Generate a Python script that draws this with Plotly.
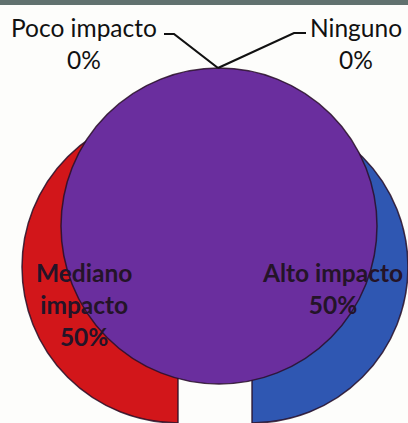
import plotly.graph_objects as go

categories = ["Ninguno", "Poco impacto", "Mediano impacto", "Alto impacto"]
values = [0, 0, 50, 50]
pct_labels = ["0%", "0%", "50%", "50%"]

W, H = 408, 423
TRANSP = "rgba(0,0,0,0)"
RED = "#d2161a"
BLUE = "#2f57b2"
PURPLE = "#6a2e9e"
EDGE = "rgba(40,15,40,0.85)"


def px(x):
    return x / W


def py(y):
    return 1 - y / H


fig = go.Figure()

# red half (Mediano impacto)
fig.add_trace(go.Pie(
    labels=categories, values=values, sort=False, direction="counterclockwise",
    marker=dict(colors=[TRANSP, TRANSP, RED, TRANSP],
                line=dict(color=[TRANSP, TRANSP, EDGE, TRANSP], width=1.5)),
    textinfo="none", hoverinfo="skip", showlegend=False,
    domain=dict(x=[px(22), px(334)], y=[0, py(111)]),
))
# blue half (Alto impacto)
fig.add_trace(go.Pie(
    labels=categories, values=values, sort=False, direction="counterclockwise",
    marker=dict(colors=[TRANSP, TRANSP, TRANSP, BLUE],
                line=dict(color=[TRANSP, TRANSP, TRANSP, EDGE], width=1.5)),
    textinfo="none", hoverinfo="skip", showlegend=False,
    domain=dict(x=[px(96), 1], y=[0, py(111)]),
))
# purple disc (total)
fig.add_trace(go.Pie(
    labels=["Total"], values=[sum(values)], sort=False,
    marker=dict(colors=[PURPLE], line=dict(color=EDGE, width=1.5)),
    textinfo="none", hoverinfo="skip", showlegend=False,
    domain=dict(x=[px(61), px(377)], y=[py(384), py(68)]),
))

lab = dict(zip(categories, zip(categories, pct_labels)))

reg_font = dict(family="Lato", size=24.5, color="#111111")
bold_font = dict(family="Lato", size=24.5, color="#241428")

annotations = [
    dict(text=f"{lab['Poco impacto'][0]}<br>{lab['Poco impacto'][1]}", x=px(84), y=py(43),
         font=reg_font),
    dict(text=f"{lab['Ninguno'][0]}<br>{lab['Ninguno'][1]}", x=px(356), y=py(43),
         font=reg_font),
    dict(text="<b>Mediano<br>impacto<br>" + lab['Mediano impacto'][1] + "</b>", x=px(84), y=py(304),
         font=bold_font),
    dict(text="<b>" + lab['Alto impacto'][0] + "<br>" + lab['Alto impacto'][1] + "</b>", x=px(332), y=py(288),
         font=bold_font),
]
for a in annotations:
    a.update(xref="paper", yref="paper", xanchor="center", yanchor="middle", showarrow=False)

shapes = [
    dict(type="rect", xref="paper", yref="paper", x0=0, x1=1, y0=py(5), y1=1,
         fillcolor="#61726f", line=dict(width=0), layer="below"),
    dict(type="path", xref="paper", yref="paper",
         path=f"M {px(164)} {py(34)} L {px(174)} {py(34)} L {px(218)} {py(68)}",
         line=dict(color="#111111", width=2.2)),
    dict(type="path", xref="paper", yref="paper",
         path=f"M {px(218)} {py(68)} L {px(294)} {py(33)} L {px(306)} {py(33)}",
         line=dict(color="#111111", width=2.2)),
]

fig.update_layout(
    width=W, height=H, margin=dict(l=0, r=0, t=0, b=0),
    paper_bgcolor="#fdfdfb", plot_bgcolor="#fdfdfb",
    annotations=annotations, shapes=shapes,
)

fig.write_html("out.html")
